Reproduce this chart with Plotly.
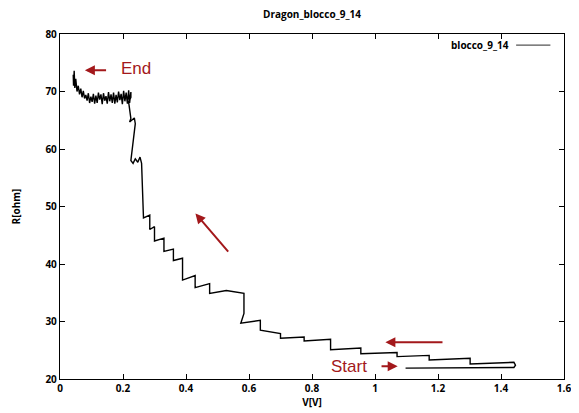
import plotly.graph_objects as go

# Measured curve, in time order (Start -> End)
V = [1.097, 1.441, 1.446, 1.441, 1.302, 1.302, 1.172, 1.172, 1.070, 1.070,
     0.955, 0.955, 0.859, 0.859, 0.775, 0.775, 0.700, 0.700, 0.636, 0.636,
     0.574, 0.584, 0.584, 0.528, 0.475, 0.475, 0.429, 0.429, 0.389, 0.389,
     0.360, 0.360, 0.330, 0.330, 0.300, 0.300, 0.285, 0.285, 0.265, 0.259,
     0.254, 0.247, 0.239, 0.232, 0.225, 0.232, 0.239, 0.236, 0.221, 0.225,
     0.218, 0.225, 0.225,
     0.221, 0.218, 0.214, 0.210, 0.206, 0.202, 0.198, 0.194, 0.190, 0.186,
     0.182, 0.178, 0.174, 0.170, 0.166, 0.162, 0.158, 0.154, 0.150, 0.146,
     0.142, 0.138, 0.134, 0.130, 0.126, 0.122, 0.118, 0.114, 0.110, 0.106,
     0.102, 0.098, 0.094, 0.090, 0.086, 0.082, 0.078, 0.074, 0.070, 0.066,
     0.062, 0.058, 0.054, 0.050, 0.047, 0.045, 0.043, 0.042]
R = [21.9, 22.0, 22.4, 22.9, 22.6, 23.6, 23.3, 24.1, 23.9, 24.6,
     24.4, 25.4, 25.1, 26.9, 26.6, 27.3, 27.1, 27.9, 28.5, 30.2,
     29.7, 31.4, 34.9, 35.4, 34.9, 36.6, 35.9, 38.0, 37.2, 41.0,
     40.6, 42.6, 42.2, 44.5, 44.0, 46.5, 46.0, 48.5, 48.0, 57.5,
     58.6, 57.7, 58.3, 57.5, 58.0, 61.5, 64.4, 65.4, 64.7, 65.3,
     68.1, 69.0, 69.9,
     68.0, 70.2, 67.9, 69.8, 68.3, 70.1, 67.8, 69.6, 68.5, 70.0,
     68.1, 69.4, 67.9, 69.8, 68.0, 69.5, 68.3, 69.9, 67.9, 69.2,
     68.4, 69.7, 67.8, 69.5, 68.6, 69.8, 68.0, 69.3, 67.9, 69.6,
     68.2, 69.1, 68.0, 69.7, 68.4, 69.4, 68.8, 70.1, 69.0, 70.5,
     69.5, 71.0, 70.0, 72.2, 70.6, 73.6, 71.0, 72.9, 71.3]

series_name = "blocco_9_14"
title_text = "Dragon_blocco_9_14"
x_label = "V[V]"
y_label = "R[ohm]"

RED = "#a3181b"
FONT = "Open Sans"

fig = go.Figure()
fig.add_trace(go.Scatter(x=V, y=R, mode="lines", name=series_name,
                         line=dict(color="black", width=1.4),
                         showlegend=False))

axis_common = dict(showline=True, linecolor="black", linewidth=1.3,
                   mirror="allticks", ticks="inside", ticklen=5,
                   tickcolor="black", showgrid=False, zeroline=False,
                   tickfont=dict(family=FONT, size=10, color="black",
                                 weight="bold"))

# The page body has an 8px margin: the figure is sized/offset to compensate.
fig.update_layout(
    width=571, height=405,
    margin=dict(l=47, r=8, t=26, b=34),
    paper_bgcolor="white", plot_bgcolor="white",
    title=dict(text=title_text, xref="paper", x=0.5, xanchor="center",
               y=0.985, yanchor="middle",
               font=dict(family=FONT, size=10, color="black",
                         weight="bold")),
    xaxis=dict(range=[0, 1.6], dtick=0.2, tick0=0,
               title=dict(text=x_label, standoff=0,
                          font=dict(family=FONT, size=10,
                                    color="black", weight="bold")),
               **axis_common),
    yaxis=dict(range=[20, 80], dtick=10, tick0=20,
               title=dict(text=y_label, standoff=22,
                          font=dict(family=FONT, size=10,
                                    color="black", weight="bold")),
               **axis_common),
)

# Legend (text left of line sample, gnuplot style)
fig.add_annotation(xref="paper", yref="paper", x=0.895, y=0.968,
                   xanchor="right", yanchor="middle", showarrow=False,
                   text=series_name,
                   font=dict(family=FONT, size=10, color="black",
                             weight="bold"))
fig.add_shape(type="line", xref="paper", yref="paper",
              x0=0.905, x1=0.973, y0=0.968, y1=0.968,
              line=dict(color="#555555", width=1.2))

# Red annotations
fig.add_annotation(x=0.079, y=73.7, ax=0.151, ay=73.7, xref="x", yref="y",
                   axref="x", ayref="y", text="", showarrow=True,
                   arrowhead=2, arrowsize=1, arrowwidth=2, arrowcolor=RED)
fig.add_annotation(x=0.241, y=74.0, xref="x", yref="y", text="End",
                   showarrow=False,
                   font=dict(family="Liberation Sans", size=17, color=RED))
fig.add_annotation(x=0.430, y=48.8, ax=0.538, ay=41.9, xref="x", yref="y",
                   axref="x", ayref="y", text="", showarrow=True,
                   arrowhead=2, arrowsize=1, arrowwidth=2, arrowcolor=RED)
fig.add_annotation(x=1.033, y=26.4, ax=1.219, ay=26.4, xref="x", yref="y",
                   axref="x", ayref="y", text="", showarrow=True,
                   arrowhead=2, arrowsize=1, arrowwidth=2, arrowcolor=RED)
fig.add_annotation(x=0.917, y=22.2, xref="x", yref="y", text="Start",
                   showarrow=False,
                   font=dict(family="Liberation Sans", size=17, color=RED))
fig.add_annotation(x=1.072, y=22.2, ax=1.016, ay=22.2, xref="x", yref="y",
                   axref="x", ayref="y", text="", showarrow=True,
                   arrowhead=2, arrowsize=1, arrowwidth=2, arrowcolor=RED)

fig.write_html("out.html")
